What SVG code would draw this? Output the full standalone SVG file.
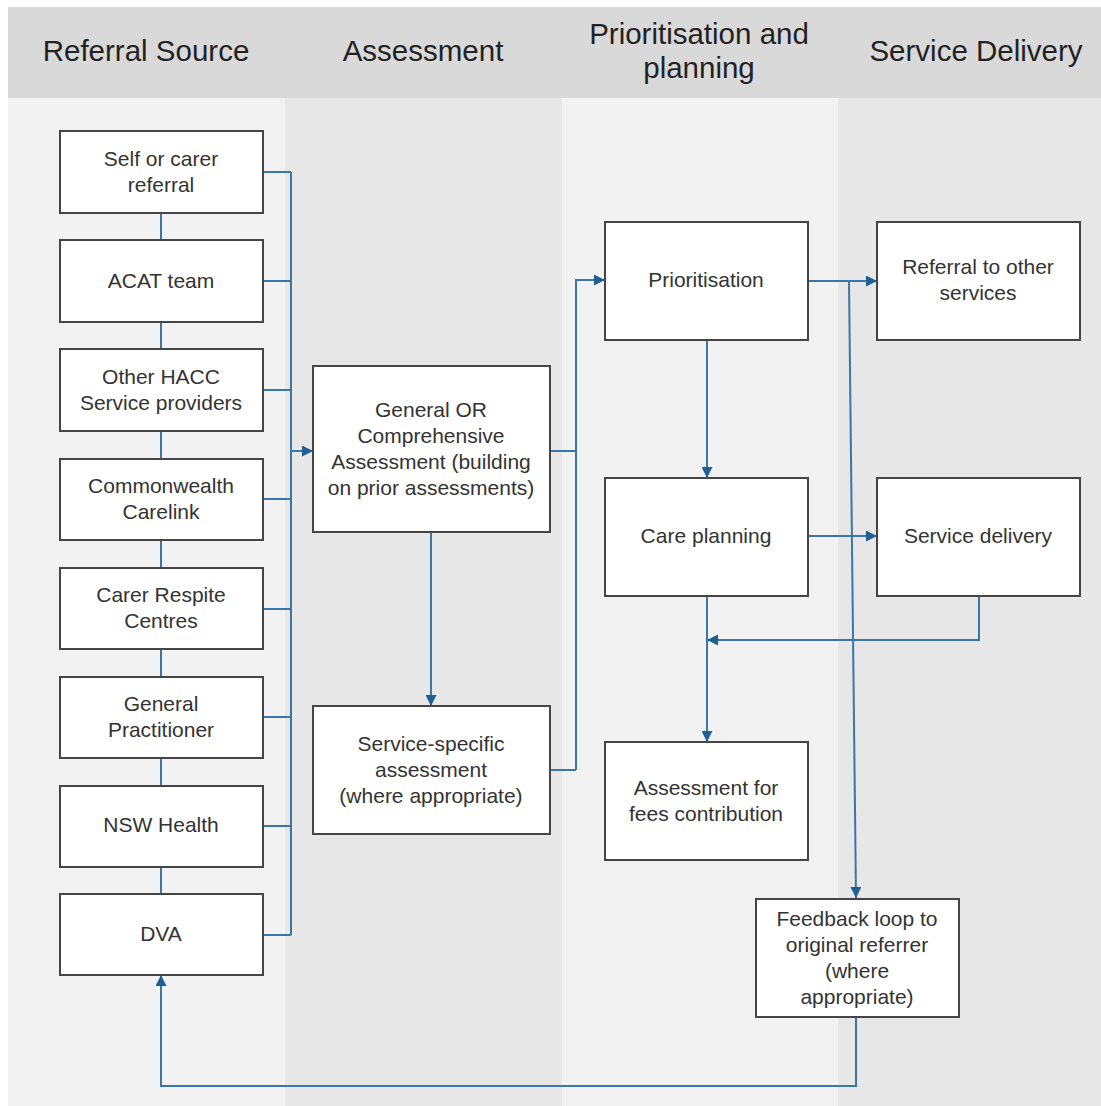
<svg xmlns="http://www.w3.org/2000/svg" width="1101" height="1106" viewBox="0 0 1101 1106">
<defs>
<marker id="ah" viewBox="0 0 10 10" refX="10" refY="5" markerWidth="12" markerHeight="11" markerUnits="userSpaceOnUse" orient="auto">
<path d="M0,0 L10,5 L0,10 z" fill="#1f5f96"/>
</marker>
<style>
.box{fill:#fff;stroke:#454545;stroke-width:2}
.t{font-family:"Liberation Sans",Arial,sans-serif;font-size:21px;fill:#333;text-anchor:middle}
.h{font-family:"Liberation Sans",Arial,sans-serif;font-size:29.5px;fill:#222;text-anchor:middle}
.c{fill:none;stroke:#3a76a8;stroke-width:2}
.a{marker-end:url(#ah)}
</style>
</defs>
<rect x="0" y="0" width="1101" height="1106" fill="#fff"/>
<rect x="8" y="98" width="277" height="1008" fill="#f2f2f2"/>
<rect x="285" y="98" width="277" height="1008" fill="#e7e7e7"/>
<rect x="562" y="98" width="276" height="1008" fill="#f2f2f2"/>
<rect x="838" y="98" width="263" height="1008" fill="#e7e7e7"/>
<rect x="8" y="7" width="1093" height="91" fill="#d9d9d9"/>
<g id="headers">
<text class="h" x="146" y="61">Referral Source</text>
<text class="h" x="423" y="61">Assessment</text>
<text class="h" x="699" y="44">Prioritisation and</text>
<text class="h" x="699" y="78">planning</text>
<text class="h" x="976" y="61">Service Delivery</text>
</g>
<g id="connectors">
<path class="c" d="M161 213V240M161 322V349M161 431V459M161 540V568M161 649V677M161 758V786M161 867V894"/>
<path class="c" d="M263 172H291M263 281H291M263 390H291M263 499H291M263 609H291M263 717H291M263 826H291M263 935H291M291 172V935"/>
<path class="c a" d="M291 451H313"/>
<path class="c a" d="M431 532V706"/>
<path class="c" d="M550 451H576M550 770H576"/>
<path class="c a" d="M576 770V280H605"/>
<path class="c a" d="M808 281H877"/>
<path class="c a" d="M849 281L856 898"/>
<path class="c a" d="M707 340V478"/>
<path class="c a" d="M808 536H877"/>
<path class="c a" d="M979 596V640H707"/>
<path class="c a" d="M707 596V742"/>
<path class="c a" d="M856 1017V1086H161V975"/>
</g>
<g id="n-self"><rect class="box" x="60" y="131" width="203" height="82"/><text class="t" x="161" y="166">Self or carer</text><text class="t" x="161" y="192">referral</text></g>
<g id="n-acat"><rect class="box" x="60" y="240" width="203" height="82"/><text class="t" x="161" y="288">ACAT team</text></g>
<g id="n-hacc"><rect class="box" x="60" y="349" width="203" height="82"/><text class="t" x="161" y="384">Other HACC</text><text class="t" x="161" y="410">Service providers</text></g>
<g id="n-carelink"><rect class="box" x="60" y="459" width="203" height="81"/><text class="t" x="161" y="493">Commonwealth</text><text class="t" x="161" y="519">Carelink</text></g>
<g id="n-respite"><rect class="box" x="60" y="568" width="203" height="81"/><text class="t" x="161" y="602">Carer Respite</text><text class="t" x="161" y="628">Centres</text></g>
<g id="n-gp"><rect class="box" x="60" y="677" width="203" height="81"/><text class="t" x="161" y="711">General</text><text class="t" x="161" y="737">Practitioner</text></g>
<g id="n-nsw"><rect class="box" x="60" y="786" width="203" height="81"/><text class="t" x="161" y="832">NSW Health</text></g>
<g id="n-dva"><rect class="box" x="60" y="894" width="203" height="81"/><text class="t" x="161" y="941">DVA</text></g>
<g id="n-general"><rect class="box" x="313" y="366" width="237" height="166"/><text class="t" x="431" y="417">General OR</text><text class="t" x="431" y="443">Comprehensive</text><text class="t" x="431" y="469">Assessment (building</text><text class="t" x="431" y="495">on prior assessments)</text></g>
<g id="n-specific"><rect class="box" x="313" y="706" width="237" height="128"/><text class="t" x="431" y="751">Service-specific</text><text class="t" x="431" y="777">assessment</text><text class="t" x="431" y="803">(where appropriate)</text></g>
<g id="n-prior"><rect class="box" x="605" y="222" width="203" height="118"/><text class="t" x="706" y="287">Prioritisation</text></g>
<g id="n-referral"><rect class="box" x="877" y="222" width="203" height="118"/><text class="t" x="978" y="274">Referral to other</text><text class="t" x="978" y="300">services</text></g>
<g id="n-care"><rect class="box" x="605" y="478" width="203" height="118"/><text class="t" x="706" y="543">Care planning</text></g>
<g id="n-delivery"><rect class="box" x="877" y="478" width="203" height="118"/><text class="t" x="978" y="543">Service delivery</text></g>
<g id="n-fees"><rect class="box" x="605" y="742" width="203" height="118"/><text class="t" x="706" y="795">Assessment for</text><text class="t" x="706" y="821">fees contribution</text></g>
<g id="n-feedback"><rect class="box" x="756" y="899" width="203" height="118"/><text class="t" x="857" y="926">Feedback loop to</text><text class="t" x="857" y="952">original referrer</text><text class="t" x="857" y="978">(where</text><text class="t" x="857" y="1004">appropriate)</text></g>
</svg>
